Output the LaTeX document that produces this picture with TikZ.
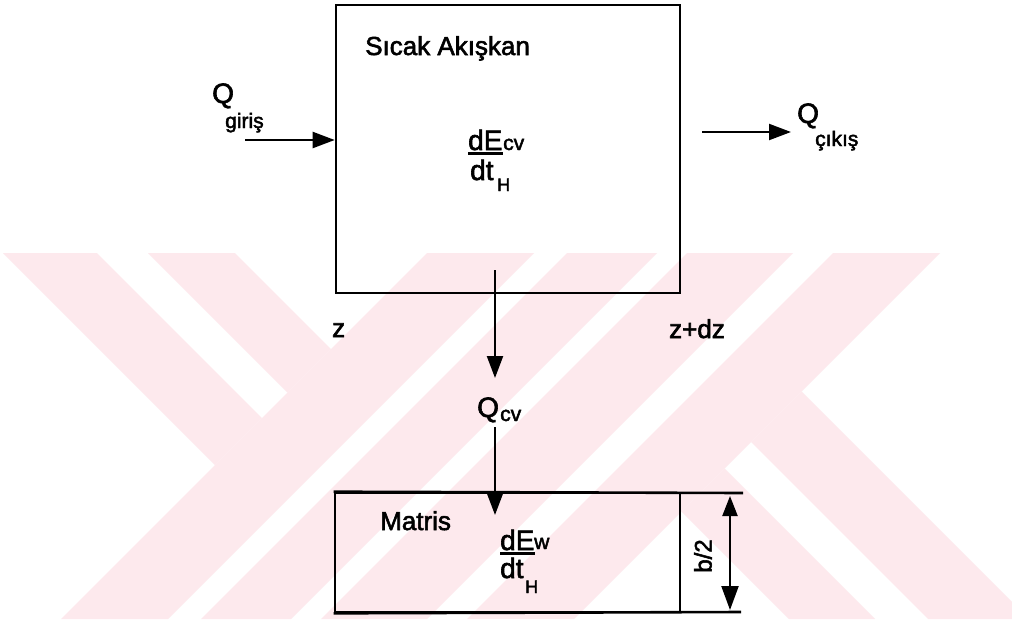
\documentclass[tikz,border=0pt]{standalone}
\usepackage{fontspec}
\setmainfont{Liberation Sans}[FakeBold=2.2]
\usetikzlibrary{arrows.meta}
\definecolor{wm}{RGB}{253,233,237}
\newcommand\fsz[1]{\fontsize{#1}{#1}\selectfont}
\tikzset{
  lbl/.style={inner sep=0pt, anchor=base west, font=\fsz{26}},
  bigq/.style={inner sep=0pt, anchor=base west, font=\fsz{28}},
  sub/.style={inner sep=0pt, anchor=base west, font=\fsz{21}},
  hsub/.style={inner sep=0pt, anchor=base west, font=\fsz{18}},
  arr/.style={line width=2.2pt, -{Triangle[length=22pt,width=16pt]}},
  boxst/.style={draw, line width=2.6pt, inner sep=0pt},
  wmark/.style={fill=wm, draw=none},
  bar/.style={line width=2.2pt}
}
\begin{document}
\begin{tikzpicture}[x=1pt,y=-1pt]
\useasboundingbox (0,0) rectangle (1012,619);
\fill[white] (0,0) rectangle (1012,619);
% watermark
\begin{scope}
\clip (0,253) rectangle (1012,619);
\fill[wmark] (3,253) -- (97,253) -- (262,418) -- (215,465) -- cycle;
\fill[wmark] (148,253) -- (235,253) -- (331,349) -- (287.5,392.5) -- cycle;
\foreach \a/\b in {680/787, 820/910, 940/1046, 1086/1193}{
  \fill[wmark] ({\a-253},253) -- ({\b-253},253) -- ({\b-619},619) -- ({\a-619},619) -- cycle;
}
\fill[wmark] (681.5,511.5) -- (724.5,468.5) -- (875,619) -- (789,619) -- cycle;
\fill[wmark] (751,442) -- (801.5,391.5) -- (1029,619) -- (928,619) -- cycle;
\end{scope}

% top box
\node[boxst, minimum width=344pt, minimum height=288pt] (hot) at (508,149) {};
\node[lbl] (hotlbl) at (365,55) {Sıcak Akışkan};
\node[lbl, font=\fsz{28}] (dE1) at (468,150) {dE};
\draw[bar] ([yshift=-3pt]dE1.south west) -- ([yshift=-3pt]dE1.south east);
\node[sub] (cv1) at (503,150) {cv};
\node[lbl, font=\fsz{28}] (dt1) at (470,180) {dt};
\node[hsub] (H1) at (497,191) {H};

% input
\node[bigq] (qin) at (212,103) {Q};
\node[sub] (qinsub) at (225,128) {giriş};
\coordinate (inS) at (245,140);
\draw[arr] (inS) -- (inS -| hot.west);

% output
\coordinate (outS) at (702,132);
\coordinate (outE) at (791,132);
\draw[arr] (outS) -- (outE);
\node[bigq] (qout) at (797,123) {Q};
\node[sub] (qoutsub) at (815,146) {çıkış};

% z labels
\node[lbl] (zl) at (332,337) {z};
\node[lbl] (zr) at (669,338) {z+dz};

% Q_cv
\coordinate (v1a) at (495,270);
\coordinate (v1b) at (495,378);
\draw[arr] (v1a) -- (v1b);
\node[bigq] (qcv) at (477,417) {Q};
\node[sub] (qcvsub) at (500,421) {cv};
\coordinate (v2a) at (495,427);
\coordinate (v2b) at (495,515);

% matrix box
\node[boxst, minimum width=345pt, minimum height=119pt] (mat) at (507.5,552.5) {};
\draw[arr] (v2a) -- (v2b);
\coordinate (ext1) at (743,493);
\coordinate (ext2) at (741,612);
\draw[line width=2.6pt] (mat.north west) -- (ext1);
\draw[line width=2.6pt] (mat.south west) -- (ext2);
\node[lbl] (matlbl) at (380,530) {Matris};
\node[lbl, font=\fsz{28}] (dE2) at (500,550) {dE};
\draw[bar] ([yshift=-3pt]dE2.south west) -- ([yshift=-3pt]dE2.south east);
\node[sub] (w2) at (534,549) {w};
\node[lbl, font=\fsz{28}] (dt2) at (500,578) {dt};
\node[hsub] (H2) at (525,593) {H};

% dimension b/2
\coordinate (dimT) at (730,496);
\coordinate (dimB) at (730,610);
\draw[line width=2.2pt, {Triangle[length=20pt,width=15pt]}-{Triangle[length=24pt,width=17pt]}] (dimT) -- (dimB);
\node[inner sep=0pt, rotate=90, font=\fsz{24}] (b2) at (703,556) {b/2};
\end{tikzpicture}
\end{document}
